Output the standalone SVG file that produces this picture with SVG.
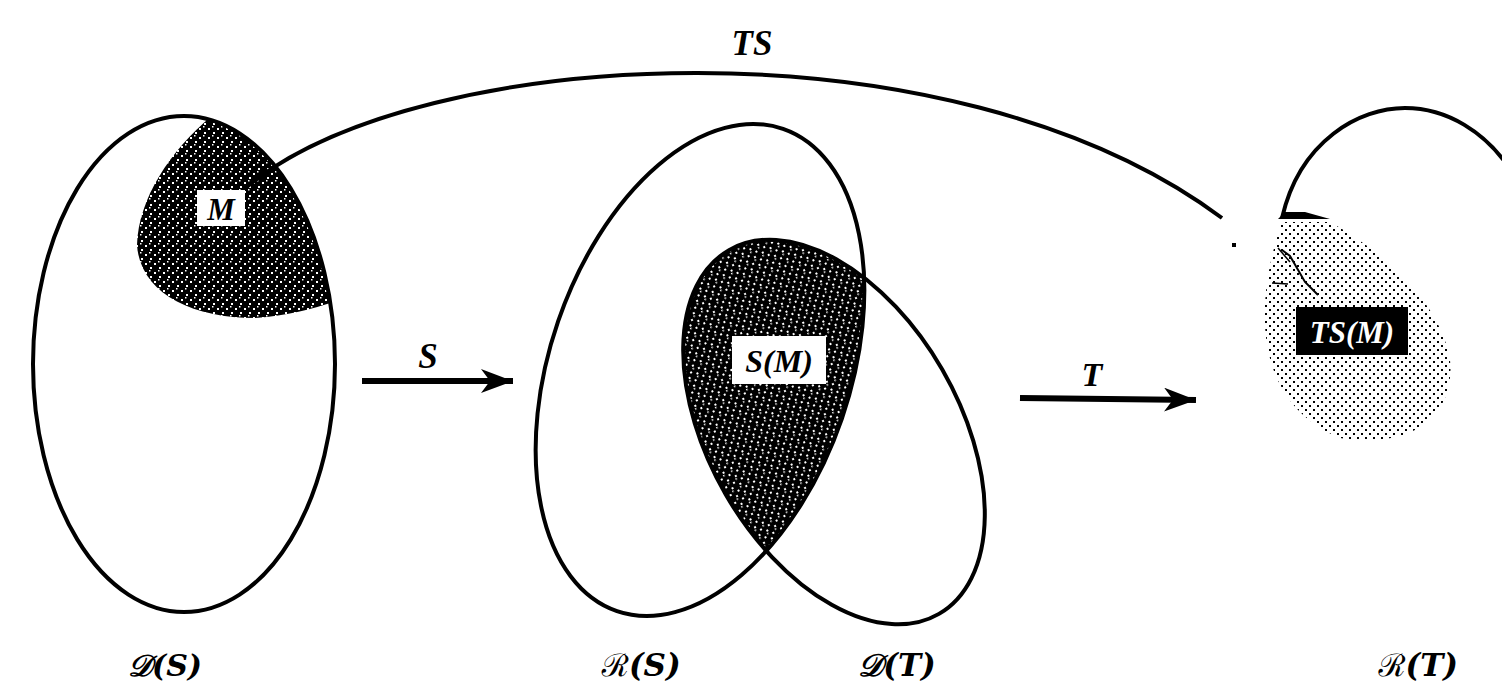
<svg xmlns="http://www.w3.org/2000/svg" width="1502" height="693" viewBox="0 0 1502 693">
<style>
.ln{fill:none;stroke:#000;stroke-width:4}
.lbl{font-family:"Liberation Serif","DejaVu Serif",serif;font-weight:bold;font-style:italic;fill:#000}
.scr{font-family:"DejaVu Serif","Noto Sans",serif;font-weight:bold;font-style:italic;fill:#000}
</style>
<defs>
<pattern id="dark" width="9" height="9" patternUnits="userSpaceOnUse">
<rect width="9" height="9" fill="#000"/>
<rect x="1" y="2" width="2" height="2" fill="#fff"/>
<rect x="6" y="6" width="2" height="2" fill="#fff"/>
<rect x="5" y="0" width="1.5" height="1.5" fill="#fff"/>
</pattern>
<pattern id="light" width="8" height="8" patternUnits="userSpaceOnUse">
<rect width="8" height="8" fill="#fff"/>
<rect x="1" y="1" width="2" height="2" fill="#000"/>
<rect x="5" y="5" width="2" height="2" fill="#000"/>
</pattern>
<clipPath id="cDS"><ellipse cx="184" cy="364" rx="151" ry="248"/></clipPath>
<clipPath id="cRS"><ellipse cx="700" cy="370" rx="150" ry="255" transform="rotate(19 700 370)"/></clipPath>
<marker id="ah" markerWidth="34" markerHeight="24" refX="32" refY="12" orient="auto" markerUnits="userSpaceOnUse">
<path d="M0,0 L32,12 L0,24 L9,12 Z" fill="#000"/>
</marker>
</defs>

<g id="DS">
<path d="M212,116 C170,150 138,200 137,245 C140,292 190,318 255,318 C290,316 315,308 340,300 L340,110 Z" fill="url(#dark)" clip-path="url(#cDS)"/>
<ellipse class="ln" cx="184" cy="364" rx="151" ry="248"/>
<rect x="197" y="190" width="48" height="36" fill="#fff"/>
<text class="lbl" x="221" y="220" font-size="31" text-anchor="middle">M</text>
<text class="scr" x="165" y="676" font-size="30" text-anchor="middle">𝒟(S)</text>
</g>

<g id="RS">
<g clip-path="url(#cRS)">
<ellipse cx="834" cy="432" rx="125" ry="210" transform="rotate(-30 834 432)" fill="url(#dark)"/>
</g>
<ellipse class="ln" cx="700" cy="370" rx="150" ry="255" transform="rotate(19 700 370)"/>
<rect x="732" y="336" width="94" height="48" fill="#fff"/>
<text class="lbl" x="779" y="372" font-size="32" text-anchor="middle">S(M)</text>
<text class="scr" x="641" y="676" font-size="31" text-anchor="middle">ℛ(S)</text>
</g>

<g id="DT">
<ellipse class="ln" cx="834" cy="432" rx="125" ry="210" transform="rotate(-30 834 432)"/>
<text class="scr" x="897" y="676" font-size="31" text-anchor="middle">𝒟(T)</text>
</g>

<g id="RT">
<path d="M1282,222 C1255,300 1250,400 1340,438 C1420,450 1455,410 1450,360 C1440,300 1380,250 1330,222 Z" fill="url(#light)"/>
<path class="ln" d="M1282,218 C1300,140 1360,108 1405,108 C1450,108 1485,135 1505,162"/>
<path d="M1278,219 L1330,219 L1305,212 L1285,212 Z" fill="#000"/>
<path d="M1282,250 L1290,256 L1305,282 L1318,295" fill="none" stroke="#000" stroke-width="2"/>
<path d="M1278,248 L1290,262" fill="none" stroke="#000" stroke-width="1.5"/>
<path d="M1272,283 L1288,284" fill="none" stroke="#000" stroke-width="1.5"/>
<rect x="1232" y="243" width="4" height="4" fill="#000"/>
<rect x="1296" y="307" width="112" height="48" fill="#000"/>
<text x="1352" y="343" font-size="31" text-anchor="middle" class="lbl" style="fill:#fff">TS(M)</text>
<text class="scr" x="1418" y="676" font-size="31" text-anchor="middle">ℛ(T)</text>
</g>

<g id="connectors">
<path class="ln" d="M248,186 C420,45 950,15 1222,218"/>
<text class="lbl" x="752" y="55" font-size="35" text-anchor="middle">TS</text>
<line x1="362" y1="381" x2="513" y2="381" stroke="#000" stroke-width="6" marker-end="url(#ah)"/>
<text class="lbl" x="428" y="368" font-size="35" text-anchor="middle">S</text>
<line x1="1020" y1="398" x2="1196" y2="400" stroke="#000" stroke-width="6" marker-end="url(#ah)"/>
<text class="lbl" x="1092" y="386" font-size="34" text-anchor="middle">T</text>
</g>
</svg>
